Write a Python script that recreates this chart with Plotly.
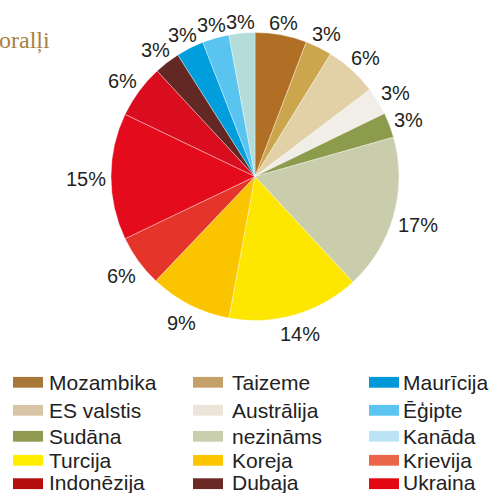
import math
import plotly.graph_objects as go

# ---- data (slice shares, printed percentages as shown) ----
slice_labels = ["Mozambika", "Taizeme", "ES valstis", "Austrālija", "Sudāna",
                "nezināms", "Turcija", "Koreja", "Krievija", "Ukraina",
                "Indonēzija", "Dubaja", "Maurīcija", "Ēģipte", "Kanāda"]
slice_values = [5.8, 3.0, 5.9, 3.1, 2.8, 17.5, 14.8, 9.2, 5.8, 14.2, 6.0, 2.9, 3.1, 3.0, 2.9]
percent_texts = ["6%", "3%", "6%", "3%", "3%", "17%", "14%", "9%", "6%", "15%",
                 "6%", "3%", "3%", "3%", "3%"]
slice_colors = ["#b06f25", "#cca64d", "#e2d1a6", "#f1eee7", "#8d9b4c",
                "#cacdac", "#fde600", "#fac500", "#e5352b", "#e30b1c",
                "#d90d1e", "#632824", "#009edc", "#5ac4f0", "#b3dcdb"]

legend_labels = ["Mozambika", "Taizeme", "Maurīcija",
                 "ES valstis", "Austrālija", "Ēģipte",
                 "Sudāna", "nezināms", "Kanāda",
                 "Turcija", "Koreja", "Krievija",
                 "Indonēzija", "Dubaja", "Ukraina"]
legend_colors = ["#a87838", "#c4a06a", "#0098d8",
                 "#d9c5a5", "#ece4d8", "#5bc4f1",
                 "#8f9a50", "#c9cfac", "#bde3f6",
                 "#ffee00", "#fdc600", "#ea6549",
                 "#b50d0d", "#6b2825", "#e30613"]

title_text = "koralļi"

W, H = 492, 493
FONT = "Liberation Sans, Arial, sans-serif"

fig = go.Figure()

cx, cy, r = 255, 176.5, 144
fig.add_trace(go.Pie(
    labels=slice_labels,
    values=slice_values,
    sort=False,
    direction="clockwise",
    rotation=0,
    automargin=False,
    marker=dict(colors=slice_colors, line=dict(color="rgba(255,255,255,0.6)", width=0.6)),
    textinfo="none",
    showlegend=False,
    hoverinfo="label+percent",
    domain=dict(x=[(cx - r) / W, (cx + r) / W], y=[1 - (cy + r) / H, 1 - (cy - r) / H]),
))

annotations = []

# percentage labels placed just outside each slice, at its middle angle
lab_size = 20
gap = 4.5
total = sum(slice_values)
cum = 0.0
for v, txt in zip(slice_values, percent_texts):
    mid = (cum + v / 2) / total * 2 * math.pi
    cum += v
    dx, dy = math.sin(mid), -math.cos(mid)
    w = lab_size * (0.556 * (len(txt) - 1) + 0.889)
    h = lab_size * 0.75
    dist = r + gap + (w / 2) * abs(dx) + (h / 2) * abs(dy)
    px, py = cx + dist * dx, cy + dist * dy
    annotations.append(dict(text=txt, xref="paper", yref="paper",
                            x=px / W, y=1 - (py + 2.5) / H,
                            xanchor="center", yanchor="middle", showarrow=False,
                            font=dict(family=FONT, size=lab_size, color="#231f20")))

shapes = []
col_sw_x = [13, 193, 369]
col_tx_x = [47, 230, 401]
row_sw_y = [382.3, 410.3, 436.3, 460.3, 483.7]
row_tx_y = [382.8, 410.3, 436.3, 460.5, 482.0]
for i, (lab, col) in enumerate(zip(legend_labels, legend_colors)):
    row, c = divmod(i, 3)
    ys = row_sw_y[row]
    shapes.append(dict(type="rect", xref="paper", yref="paper",
                       x0=col_sw_x[c] / W, x1=(col_sw_x[c] + 30) / W,
                       y0=1 - (ys + 5.4) / H, y1=1 - (ys - 5.4) / H,
                       fillcolor=col, line=dict(width=0)))
    annotations.append(dict(text=lab, xref="paper", yref="paper",
                            x=col_tx_x[c] / W, y=1 - row_tx_y[row] / H,
                            xanchor="left", yanchor="middle", showarrow=False,
                            font=dict(family=FONT, size=21, color="#222222")))

annotations.append(dict(text=title_text, xref="paper", yref="paper",
                        x=52 / W, y=1 - 40 / H, xanchor="right", yanchor="middle",
                        showarrow=False,
                        font=dict(family="Liberation Serif, Times New Roman, serif",
                                  size=24, color="#a8813f")))

fig.update_layout(
    width=W, height=H,
    margin=dict(l=0, r=0, t=0, b=0, pad=0, autoexpand=False),
    paper_bgcolor="white", plot_bgcolor="white",
    shapes=shapes, annotations=annotations,
    showlegend=False,
)

fig.write_html("out.html", config={"displayModeBar": False},
               post_script="document.body.style.margin='0px';document.body.style.overflow='hidden';")
